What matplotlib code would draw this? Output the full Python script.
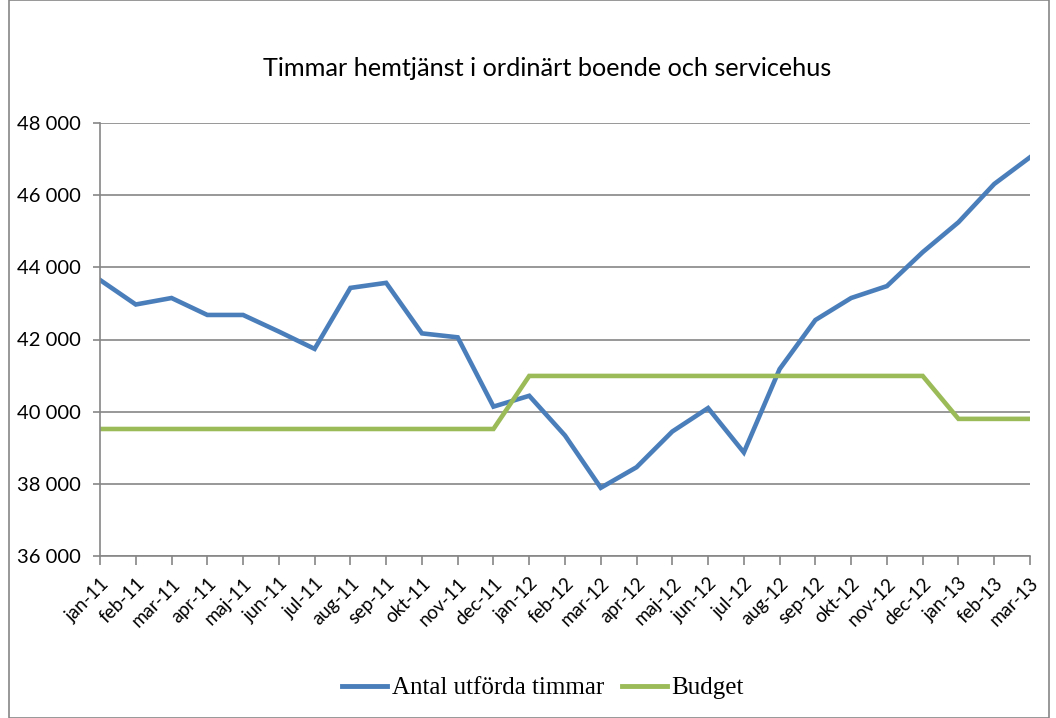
import matplotlib
matplotlib.use("Agg")
import matplotlib.pyplot as plt
from matplotlib.patches import Rectangle

months = ["jan-11", "feb-11", "mar-11", "apr-11", "maj-11", "jun-11", "jul-11", "aug-11",
          "sep-11", "okt-11", "nov-11", "dec-11", "jan-12", "feb-12", "mar-12", "apr-12",
          "maj-12", "jun-12", "jul-12", "aug-12", "sep-12", "okt-12", "nov-12", "dec-12",
          "jan-13", "feb-13", "mar-13"]
utforda = [43650, 42970, 43150, 42680, 42680, 42220, 41740, 43430, 43570, 42170, 42060,
           40140, 40440, 39340, 37890, 38460, 39450, 40100, 38870, 41180, 42540, 43150,
           43480, 44420, 45250, 46310, 47050]
budget = [39520] * 12 + [40990] * 12 + [39800] * 3
yticks = [36000, 38000, 40000, 42000, 44000, 46000, 48000]
title = "Timmar hemtjänst i ordinärt boende och servicehus"

W, H = 1056, 718
fig = plt.figure(figsize=(W / 100, H / 100), dpi=100)
fig.patches.append(Rectangle((9 / W, 0), (1049 - 9) / W, 1, transform=fig.transFigure,
                             fill=False, edgecolor="#868686", linewidth=1.2))
ax = fig.add_axes([100 / W, 1 - 556 / H, (1030 - 100) / W, (556 - 123) / H])

x = list(range(len(months)))
ax.plot(x, utforda, color="#4A7EBB", linewidth=3.3, label="Antal utförda timmar",
        solid_joinstyle="miter")
ax.plot(x, budget, color="#9BBB59", linewidth=3.3, label="Budget", solid_joinstyle="miter")

ax.set_xlim(0, len(months) - 1)
ax.set_ylim(36000, 48000)
ax.set_yticks(yticks)
ax.set_yticklabels([f"{v:,}".replace(",", " ") for v in yticks], fontsize=14.5,
                   family=["Lato", "DejaVu Sans"])
ax.set_xticks(x)
ax.set_xticklabels(months, rotation=45, ha="right", rotation_mode="anchor", fontsize=13.5,
                   family=["Lato", "DejaVu Sans"])
ax.tick_params(axis="x", length=6.5, color="#868686", width=1.2, pad=7)
ax.tick_params(axis="y", length=5, color="#868686", width=1.2, pad=9)
ax.grid(axis="y", color="#868686", linewidth=1.2)
ax.set_axisbelow(True)
for s in ["top", "right"]:
    ax.spines[s].set_visible(False)
for s in ["left", "bottom"]:
    ax.spines[s].set_color("#868686")
    ax.spines[s].set_linewidth(1.2)

fig.text(547 / W, 1 - 69 / H, title, ha="center", va="center", fontsize=18.2,
         family=["Lato", "DejaVu Sans"])

leg = fig.legend(loc="center", bbox_to_anchor=(543 / W, 1 - 688 / H), ncol=2, frameon=False,
                 prop={"family": "Liberation Serif", "size": 18}, handlelength=1.8,
                 handletextpad=0.2, columnspacing=0.7)
for line in leg.get_lines():
    line.set_linewidth(3.5)

fig.savefig("out.png", dpi=100)
